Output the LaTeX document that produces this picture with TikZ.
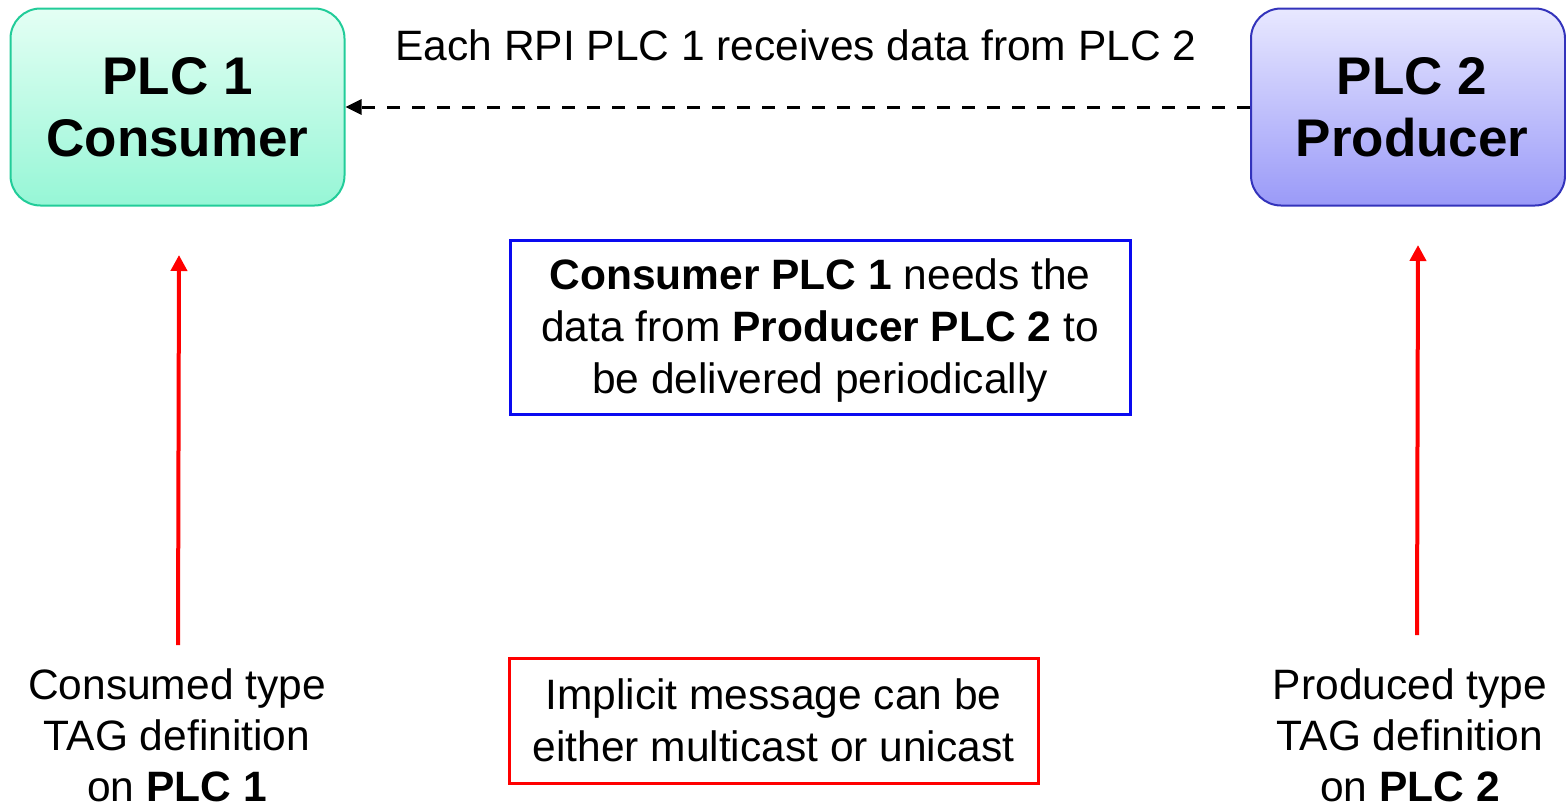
\documentclass[tikz,border=0pt]{standalone}
\usepackage{fontspec}
\setmainfont{Liberation Sans}
\usetikzlibrary{arrows.meta}
\definecolor{mintTop}{HTML}{E4FFF4}
\definecolor{mintBot}{HTML}{96F6D6}
\definecolor{mintEdge}{HTML}{22CC99}
\definecolor{lilacTop}{HTML}{E8E8FF}
\definecolor{lilacBot}{HTML}{9A9AF8}
\definecolor{lilacEdge}{HTML}{3333BB}
\definecolor{noteBlue}{HTML}{0A0AF0}
\definecolor{noteRed}{HTML}{FF0000}
\begin{document}
\begin{tikzpicture}[x=1pt,y=-1pt,
  plcbox/.style={draw, rounded corners=30pt, line width=2pt, align=center,
    inner sep=0pt, font=\fontsize{53}{62}\selectfont\bfseries},
  bodytext/.style={align=center, inner sep=0pt, font=\fontsize{42.5}{51}\selectfont},
  notebox/.style={draw, line width=3pt, align=center, inner sep=0pt,
    font=\fontsize{42.5}{52}\selectfont},
  dataflow/.style={line width=3pt, dash pattern=on 13pt off 12pt,
    -{Triangle[length=16pt,width=15pt]}},
  tagarrow/.style={draw=noteRed, line width=4pt,
    -{Triangle[length=16pt,width=16pt]}}
]
\useasboundingbox (0,0) rectangle (1566,803);

% controllers
\node[plcbox, draw=mintEdge, top color=mintTop, bottom color=mintBot,
      minimum width=334pt, minimum height=197pt] (plc1) at (177.5,107)
      {PLC 1\\Consumer};
\node[plcbox, draw=lilacEdge, top color=lilacTop, bottom color=lilacBot,
      minimum width=314pt, minimum height=197pt] (plc2) at (1408,107)
      {\hspace*{8pt}PLC 2\\\hspace*{8pt}Producer};

% periodic data transfer
\draw[dataflow] (plc2.west) -- (plc1.east);
\node[bodytext] (rpi) at (796,45) {Each RPI PLC 1 receives data from PLC 2};

% explanatory notes
\draw[draw=noteBlue, line width=3pt] (510,240) rectangle (1130,414);
\node[bodytext, font=\fontsize{42.5}{52}\selectfont] (need) at (820,331)
  {\textbf{Consumer PLC 1} needs the\\data from \textbf{Producer PLC 2} to\\be delivered periodically};
\node[notebox, draw=noteRed, minimum width=529pt, minimum height=125pt]
  (cast) at (773.5,720.5)
  {Implicit message can be\\either multicast or unicast};

% tag definitions
\node[bodytext] (tag1) at (177,735) {Consumed type\\TAG definition\\on \textbf{PLC 1}};
\node[bodytext] (tag2) at (1410,735) {Produced type\\TAG definition\\on \textbf{PLC 2}};

\coordinate (t1from) at (178,645);
\coordinate (t1to) at (179,255);
\coordinate (t2from) at (1417,635);
\coordinate (t2to) at (1418,245);
\draw[tagarrow] (t1from) -- (t1to);
\draw[tagarrow] (t2from) -- (t2to);
\end{tikzpicture}
\end{document}
